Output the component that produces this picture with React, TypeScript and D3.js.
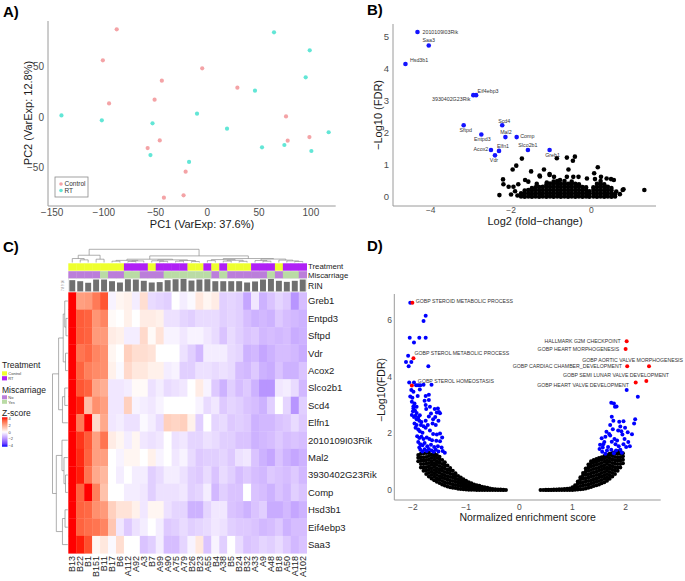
import React from "react";
import * as d3 from "d3";

const FONT = "'Liberation Sans', Arial, Helvetica, sans-serif";
const TICK = "#4d4d4d";
const AXIS = "#9a9a9a";

// ---------------- Panel A: PCA ----------------
const pcaControl: number[][] = [[-87.6,86.2],[-101,55.7],[-5,47.9],[-44,35.7],[29,28.8],[-51,17],[-95,13.4],[76,0.6],[98.6,-19.7],[77.6,-23.3],[-46,-23],[-57.7,-30.5],[-21,-53.8],[-23,-77],[-42,-79.3]];
const pcaRT: number[][] = [[64.4,83.3],[98.9,65.6],[95,39],[46,25.9],[-141,1.6],[-102,-3.3],[-10,3.3],[-53,-6.2],[19,-11.5],[117.2,-15],[52.8,-29.8],[74.4,-27.5],[100.5,-33.4],[-55,-37.4],[-17.7,-44.2]];
const pcaXTicks = [-150,-100,-50,0,50,100];
const pcaYTicks = [-50,0,50];

// ---------------- Panel B: volcano ----------------
const volGenes = ["2010109I03Rik","Saa3","Hsd3b1","Eif4ebp3","3930402G23Rik","Sftpd","Scd4","Entpd3","Mal2","Comp","Acox2","Slco2b1","Greb1","Elfn1","Vdr"];
const volLfc = [-4.33,-4.05,-4.63,-2.87,-2.94,-3.18,-2.22,-2.74,-2.14,-1.86,-2.5,-1.58,-1.04,-2.30,-2.40];
const volFdr = [5.15,4.73,4.15,3.18,3.18,2.24,2.24,1.95,1.87,1.87,1.47,1.47,1.47,1.44,1.30];
// label placement [dx, dy, anchor]
const volLabelPos: [number, number, string][] = [[5,2,"start"],[0,-3.2,"middle"],[4.5,-1.8,"start"],[1.5,-2.5,"start"],[-3,5.5,"end"],[2,6.5,"middle"],[2,-2.5,"middle"],[1,6.1,"middle"],[0.5,-2.8,"middle"],[3.6,1.2,"start"],[-2.7,0.8,"end"],[0,-2.5,"middle"],[3,6.8,"middle"],[4,-3.2,"middle"],[-1,6.5,"middle"]];
const volOther: number[][] = [[-1.73,1.20],[-1.87,0.98],[-1.96,0.86],[-1.50,0.80],[-2.20,0.55],[-2.19,0.40],[-2.29,0.06],[-0.86,1.21],[-0.61,1.23],[-0.41,1.26],[-0.46,1.13],[-1.04,0.72],[-1.18,0.86],[-1.29,0.67],[0.16,0.93],[-0.11,0.58],[0.38,0.58],[0.56,0.53],[0.78,0.22],[1.32,0.22],[0.71,0.09],[-0.32,0.63],[-0.61,0.63],[-0.78,0.53],[-1.65,0.53],[-1.94,0.32],[-2.06,0.32],[-1.82,0.40],[-1.57,0.48],[-1.36,0.41],[-1.11,0.45],[-0.93,0.63],[-0.45,0.63],[0.07,0.74],[0.24,0.63],[0.34,0.32],[0.62,0.17],[-0.57,0.86],[-1.28,0.64],[-1.04,0.69],[0.49,0.56],[0.09,0.56],[-2.0,0.08],[-1.9,0.18],[-1.84,0.05],[0.80,0.24]];
const volBlob: [number, number[]][] = [
  [-1.75,[0.02,0.12]],[-1.66,[0.01,0.11,0.2]],[-1.57,[0.02,0.12,0.22]],[-1.48,[0.01,0.1,0.2,0.28]],
  [-1.39,[0.02,0.12,0.22,0.3]],[-1.30,[0.01,0.11,0.21,0.31]],[-1.21,[0.02,0.12,0.22,0.32]],
  [-1.12,[0.01,0.11,0.21,0.31,0.38]],[-1.03,[0.02,0.12,0.22,0.32,0.42]],[-0.94,[0.01,0.11,0.21,0.31,0.41,0.48]],
  [-0.85,[0.02,0.12,0.22,0.32,0.42,0.5]],[-0.76,[0.01,0.11,0.21,0.31,0.41]],[-0.67,[0.02,0.12,0.22,0.32,0.42,0.5]],
  [-0.58,[0.01,0.11,0.21,0.31,0.41]],[-0.49,[0.02,0.12,0.22,0.32,0.42,0.48]],[-0.40,[0.01,0.11,0.21,0.31,0.41]],
  [-0.31,[0.02,0.12,0.22,0.32,0.4]],[-0.22,[0.01,0.11,0.21,0.31]],[-0.13,[0.02,0.12,0.22,0.3]],
  [-0.05,[0.01,0.1,0.18]],[0.05,[0.02,0.12,0.22,0.3]],[0.14,[0.01,0.11,0.21,0.31,0.41]],
  [0.23,[0.02,0.12,0.22,0.32,0.42,0.5]],[0.32,[0.01,0.11,0.21,0.31,0.4]],[0.41,[0.02,0.12,0.22,0.32]],
  [0.50,[0.01,0.11,0.21,0.28]],[0.59,[0.02,0.1]]
];
const volXTicks = [-4,-2,0];
const volYTicks = [0,1,2,3,4,5];

// ---------------- Panel C: heatmap ----------------
const sampleIds = ["B13","B22","B1","B151","B11","B17","B6","A112","A92","A3","B7","A99","A90","A75","A79","B26","B23","A55","B4","A38","B5","B24","B32","A33","A9","A48","B18","A50","A118","A102"];
const treatment = ["Control","Control","Control","Control","Control","Control","Control","RT","RT","RT","Control","RT","RT","RT","RT","Control","Control","RT","Control","RT","Control","Control","Control","RT","RT","RT","Control","RT","RT","RT"];
const miscarriage = ["No","No","No","No","Yes","No","No","Yes","Yes","No","No","No","Yes","Yes","Yes","Yes","Yes","Yes","No","Yes","No","No","No","No","No","Yes","No","Yes","Yes","No"];
const rin = [8.8,8.0,6.8,9.3,9.3,8.0,7.0,9.5,9.3,8.3,7.0,7.3,8.8,9.5,9.8,8.5,9.3,9.5,8.0,8.0,8.0,8.0,7.0,7.8,9.3,9.8,8.3,7.5,8.3,9.3];
const zGenes = ["Greb1","Entpd3","Sftpd","Vdr","Acox2","Slco2b1","Scd4","Elfn1","2010109I03Rik","Mal2","3930402G23Rik","Comp","Hsd3b1","Eif4ebp3","Saa3"];
const zGreb1 = [4,2.0,2.1,2.7,3.3,-0.2,0.2,0.3,-0.3,0.7,-0.6,-0.7,-0.8,0,-0.3,-0.1,0.5,0.2,0.4,-0.8,-0.7,-0.8,-1.5,-0.4,-1.3,-1.0,-0.7,-0.9,-1.8,-1.1];
const zEntpd3 = [4,3.2,3.1,2.2,2.5,0.1,0,0.3,0,0.4,0.4,0.3,-0.5,-0.5,-0.7,-0.8,-0.6,-0.6,-0.6,-0.8,-0.7,-0.8,-1.1,-1.3,-1.2,-1.3,-0.9,-1.1,-1.2,-1.3];
const zSftpd = [4,3.2,3.1,2.1,2.1,0.4,0.3,-0.3,-0.3,0.8,0.1,0.6,-0.2,-0.2,-0.4,-0.2,-0.2,-0.4,-0.6,-1.0,-0.6,-0.8,-1.0,-0.9,-1.2,-1.1,-1.2,-1.1,-1.4,-1.3];
const zVdr = [4,2.8,3.0,2.5,2.3,0.2,0,1.0,0.7,0.7,0.6,0,0,0,-0.5,-0.8,-1.2,-0.3,-0.3,-0.3,-0.6,-0.7,-1.3,-1.2,-1.5,-1.3,-1.1,-1.1,-1.2,-1.4];
const zAcox2 = [4,3.1,2.6,2.4,2.3,0.3,-0.1,0.8,0.5,0.5,0.3,0.3,-0.3,-0.2,-0.8,-0.8,-0.5,-0.5,-0.6,-0.5,-0.6,-1.1,-1.2,-0.9,-1.3,-1.4,-1.0,-1.3,-1.3,-1.0];
const zSlco2b1 = [4,3.3,3.1,1.9,1.7,-0.4,-0.4,-0.3,0.1,0.1,-0.5,-0.3,-0.6,-0.5,-0.4,0,0.4,-0.2,-0.9,-1.3,-0.8,-1.1,-0.9,-1.3,-1.8,-1.8,-0.4,-0.3,-0.6,-1.2];
const zScd4 = [4,3.9,1.4,2.3,2.0,-0.4,-0.4,1.0,-0.2,-0.3,-0.4,-0.2,0,0,0,0,-0.2,-0.6,-0.4,-0.9,-0.7,-0.8,-1.0,-1.1,-1.3,-0.8,0,-0.7,-1.8,-0.8];
const zElfn1 = [4,2.7,4,0.8,1.8,-0.4,-0.3,-0.5,-0.5,-0.1,-0.3,-0.6,1.0,0.9,1.0,0.3,-0.8,0,-0.7,-0.6,-0.9,-0.8,-0.9,-1.3,-1.2,-1.2,-1.0,-0.9,-0.6,-0.9];
const z2010109I03Rik = [4,3.7,3.2,2.0,2.8,0.4,0.2,-0.3,0.2,-0.4,-0.5,-0.4,0,-0.5,-0.4,-0.7,-0.7,-0.5,-0.6,-0.8,-0.8,-1.0,-1.0,-1.3,-1.2,-1.1,-0.9,-1.1,-1.0,-1.1];
const zMal2 = [4,3.8,3.1,2.0,2.0,0,-0.2,0.2,0.2,0,0.3,-0.2,0,-0.4,-0.2,-0.6,-0.9,-0.8,-0.8,-0.7,-0.9,-0.5,-0.4,-1.0,-1.3,-1.5,-1.0,-1.3,-1.5,-1.3];
const z3930402G23Rik = [4,3.9,2.8,1.8,1.5,0,-0.3,0,-0.3,-0.3,-0.8,-0.6,-0.3,-0.3,-0.5,-0.8,-0.9,-0.6,-1.0,-0.6,-0.8,-1.1,-0.9,-1.1,-1.2,-0.9,-1.0,-1.1,-0.9,-1.2];
const zComp = [4,3.1,4,2.6,1.3,0,0,-0.3,-0.3,-0.4,-0.8,-0.5,-0.5,-0.5,-0.4,-0.8,-0.7,-0.3,-1.2,-0.8,-1.0,-1.0,0,-1.0,-1.1,-1.3,-1.0,-1.2,-0.8,-1.0];
const zHsd3b1 = [4,3.1,3.0,2.3,2.1,1.0,0.6,0.6,0.3,-0.4,0.2,0.2,-0.5,-0.7,-0.7,-1.3,-1.3,-0.7,-0.4,-0.4,-1.0,-1.1,-1.3,-1.0,-0.8,-1.4,-1.4,-1.2,-1.5,-1.3];
const zEif4ebp3 = [4,3.1,2.9,2.8,2.5,1.2,-0.4,-0.9,-0.5,-0.3,0,-0.3,-0.9,-0.8,-0.6,-0.8,-0.7,-0.6,-0.4,-0.5,-0.8,-0.9,-0.9,-1.0,-1.2,-1.1,-0.9,-1.3,-1.1,-1.1];
const zSaa3 = [4,3.9,3.4,0.2,0.5,-0.1,0.7,0,0,-1.0,-0.8,-0.3,-1.1,-1.1,-0.7,-0.2,0.5,-1.0,-0.2,-0.8,0,-0.6,-1.0,-0.9,-0.7,-0.8,-0.6,-0.9,-1.2,-1.0];
const zMatrix = [zGreb1,zEntpd3,zSftpd,zVdr,zAcox2,zSlco2b1,zScd4,zElfn1,z2010109I03Rik,zMal2,z3930402G23Rik,zComp,zHsd3b1,zEif4ebp3,zSaa3];
type Tree = number | [number, Tree, Tree];
const colTree: Tree = [10, [5.5, [3, 0, [2, 1, 2]], [2.5, 3, 4]],
  [5, [2.5, [1.6, [1.0, 5, 6], [1.2, [0.8, 7, 8], 9]], [2, [1.3, 10, [0.9, 11, 12]], [1.5, [1.0, 13, 14], [0.7, 15, 16]]]],
      [3, [2.2, [1.4, 17, 18], [1.7, [1.1, 19, 20], [0.9, 21, 22]]], [2.6, [1.5, 23, [1.0, 24, 25]], [1.8, 26, [1.2, 27, [0.8, 28, 29]]]]]]];
const rowTree: Tree = [10, [6, [3, [2, 0, [1.2, 1, 2]], [1.5, 3, 4]], [3.5, [2, 5, 6], 7]], [7.5, [3.8, 8, [2.5, 9, [1.5, 10, 11]]], [3.5, [1.8, 12, 13], 14]]];
const zLegendTicks = [4,2,0,-2,-4];

// ---------------- Panel D: GSEA volcano ----------------
const gseaLeftBlack: [number, number[]][] = [
  [-1.90,[1.02,1.14,1.24]],[-1.85,[0.80,0.92,1.04,1.16,1.28]],[-1.80,[0.68,0.8,0.92,1.04,1.16,1.3]],
  [-1.75,[0.57,0.69,0.81,0.93,1.05,1.17,1.31]],[-1.70,[0.48,0.6,0.72,0.84,0.96,1.08,1.2,1.32]],
  [-1.65,[0.41,0.53,0.65,0.77,0.89,1.01,1.13,1.25]],[-1.60,[0.35,0.47,0.59,0.71,0.83,0.95,1.07,1.19,1.29]],
  [-1.55,[0.29,0.41,0.53,0.65,0.77,0.89,1.01,1.13,1.24]],[-1.50,[0.25,0.37,0.49,0.61,0.73,0.85,0.97,1.09,1.18]],
  [-1.45,[0.2,0.32,0.44,0.56,0.68,0.8,0.92,1.06]],[-1.40,[0.16,0.28,0.4,0.52,0.64,0.76,0.88,0.98]],
  [-1.35,[0.13,0.25,0.37,0.49,0.61,0.73,0.87]],[-1.30,[0.1,0.22,0.34,0.46,0.58,0.7,0.78]],
  [-1.25,[0.08,0.2,0.32,0.44,0.56,0.68]],[-1.20,[0.07,0.18,0.29,0.4,0.5,0.59]],[-1.15,[0.05,0.16,0.27,0.38,0.5]],
  [-1.10,[0.04,0.14,0.24,0.34,0.44]],[-1.05,[0.03,0.13,0.23,0.32,0.38]],[-1.00,[0.02,0.11,0.2,0.28,0.33]],
  [-0.95,[0.01,0.1,0.18,0.28]],[-0.90,[0.01,0.09,0.17,0.24]],[-0.85,[0.01,0.08,0.15,0.2]],
  [-0.80,[0,0.07,0.13,0.17]],[-0.75,[0,0.06,0.11,0.15]],[-0.70,[0,0.05,0.12]],[-0.65,[0,0.05,0.1]],
  [-0.60,[0,0.04,0.08]],[-0.55,[0,0.03,0.06]],[-0.50,[0,0.04]],[-0.45,[0,0.03]],[-0.40,[0,0.02]],
  [-0.35,[0,0.02]],[-0.30,[0,0.01]],[-0.25,[0]]
];
const gseaRightBlack: [number, number[]][] = [
  [0.40,[0]],[0.45,[0]],[0.50,[0,0.01]],[0.55,[0,0.01]],[0.60,[0,0.01]],[0.65,[0,0.02]],[0.70,[0,0.02]],
  [0.75,[0,0.03]],[0.80,[0,0.03]],[0.85,[0,0.04]],[0.90,[0,0.05]],[0.95,[0,0.06]],
  [1.00,[0,0.06,0.1]],[1.05,[0.01,0.08,0.17]],[1.10,[0.02,0.11,0.22,0.3]],[1.15,[0.03,0.14,0.26,0.38,0.45]],
  [1.20,[0.04,0.16,0.28,0.4,0.52,0.6]],[1.25,[0.06,0.18,0.3,0.42,0.54,0.66,0.76]],
  [1.30,[0.08,0.2,0.32,0.44,0.56,0.68,0.8,0.9]],[1.35,[0.11,0.23,0.35,0.47,0.59,0.71,0.83,0.95,1.02]],
  [1.40,[0.14,0.26,0.38,0.5,0.62,0.74,0.86,0.98,1.06]],[1.45,[0.17,0.29,0.41,0.53,0.65,0.77,0.89,1.01,1.1]],
  [1.50,[0.2,0.32,0.44,0.56,0.68,0.8,0.92,1.04,1.13]],[1.55,[0.24,0.36,0.48,0.6,0.72,0.84,0.96,1.08,1.16]],
  [1.60,[0.28,0.4,0.52,0.64,0.76,0.88,1.0,1.12,1.2]],[1.65,[0.33,0.45,0.57,0.69,0.81,0.93,1.05,1.17,1.24]],
  [1.70,[0.4,0.52,0.64,0.76,0.88,1.0,1.12,1.24,1.28]],[1.75,[0.48,0.6,0.72,0.84,0.96,1.08,1.2,1.31]],
  [1.80,[0.57,0.69,0.81,0.93,1.05,1.17,1.29,1.34]],[1.85,[0.68,0.8,0.92,1.04,1.16,1.28,1.37]],
  [1.90,[0.8,0.92,1.04,1.16,1.28,1.4]],[1.95,[0.95,1.07,1.19,1.3]]
];
const gseaBlue: number[][] = [
  [-2.05,6.61],[-1.76,6.15],[-1.80,5.97],[-2.06,5.38],[-1.88,5.38],[-1.76,5.38],[-1.98,5.21],
  [-2.09,4.74],[-2.13,4.52],[-2.03,4.52],[-2.08,4.37],[-1.71,4.37],[-2.07,3.80],[-1.98,3.80],
  [-1.94,3.70],[-1.90,3.70],[-1.86,3.70],[-1.80,3.72],[-1.65,3.72],[-2.03,3.53],[-1.99,3.47],[-1.87,3.55],
  [-2.05,3.30],[-2.01,3.26],[-1.91,3.32],[-1.76,3.32],[-1.70,3.36],[-2.02,3.12],[-1.97,3.06],[-1.78,3.15],[-1.70,3.18],
  [-1.99,2.96],[-1.93,2.94],[-1.99,2.89],[-1.76,3.00],[-1.68,2.94],[-1.59,2.86],[-1.53,2.88],[-1.51,2.76],[-1.49,2.71],[-1.55,2.74],
  [-1.96,2.80],[-1.93,2.72],[-1.87,2.64],[-1.75,2.86],[-1.62,2.50],
  [-1.93,2.50],[-1.88,2.45],[-1.84,2.40],[-1.97,2.35],[-1.93,2.30],[-1.76,2.45],[-1.63,2.35],[-1.57,2.30],
  [-1.95,2.20],[-1.90,2.14],[-1.87,2.08],[-1.82,2.02],[-1.76,2.20],[-1.68,2.10],[-1.62,1.98],[-1.55,1.96],[-1.49,2.00],
  [-1.92,1.90],[-1.88,1.84],[-1.84,1.88],[-1.80,1.80],[-1.74,1.86],[-1.69,1.80],[-1.64,1.76],[-1.56,1.74],[-1.49,1.72],[-1.45,1.86],
  [-1.90,1.70],[-1.86,1.62],[-1.82,1.58],[-1.78,1.66],[-1.73,1.55],[-1.66,1.60],[-1.60,1.52],[-1.53,1.55],[-1.46,1.50],[-1.88,1.50],
  [-1.86,1.42],[-1.82,1.36],[-1.78,1.44],[-1.74,1.38],[-1.70,1.45],[-1.65,1.40],[-1.61,1.35],[-1.57,1.42],[-1.52,1.36],[-1.44,1.38],[-1.40,1.32],
  [-2.02,2.65],[-1.98,2.58],[-2.0,2.78],[-1.95,2.62],[-1.90,2.55],[-1.85,2.30],[-1.80,2.25],[-1.72,2.30],[-1.70,2.60],[-1.66,2.70],[-1.58,2.58],[-1.52,2.45],
  [2.02,3.53],[2.23,3.29],[1.73,3.08],[1.78,3.06],[1.80,2.94],[1.83,2.95],
  [1.74,2.59],[1.77,2.45],[1.71,2.30],[1.88,2.41],[1.96,2.43],[2.18,2.50],[2.16,2.35],[1.90,2.24],
  [1.64,2.06],[1.62,1.88],[1.55,1.83],[1.71,1.93],[1.79,1.80],[1.92,2.08],[1.94,1.96],[2.04,2.04],[2.12,1.97],
  [1.74,1.71],[1.58,1.62],[1.81,1.62],[1.87,1.55],[1.96,1.62],[2.01,1.52],
  [1.51,1.45],[1.56,1.35],[1.65,1.40],[1.73,1.42],[1.90,1.42],[1.93,1.32],
  [1.60,1.70],[1.67,1.52],[1.84,1.75],[1.98,1.80],[2.05,1.70],[1.52,1.60],[1.69,1.98],[1.86,2.10],[1.76,2.15],[1.82,1.40],[1.62,1.28],[1.78,1.30],[2.08,1.55],[1.99,2.20],[1.57,1.50]
];
const gseaRedNames = ["GOBP STEROID METABOLIC PROCESS","GOBP STEROL METABOLIC PROCESS","GOBP STEROL HOMEOSTASIS","HALLMARK G2M CHECKPOINT","GOBP HEART MORPHOGENESIS","GOBP AORTIC VALVE MORPHOGENESIS","GOBP CARDIAC CHAMBER_DEVELOPMENT","GOBP SEMI LUNAR VALVE DEVELOPMENT","GOBP HEART VALVE DEVELOPMENT"];
const gseaRedNes = [-2.01,-1.99,-2.02,2.02,2.0,2.44,2.03,2.39,2.19];
const gseaRedFdr = [6.61,4.65,3.69,5.25,4.98,4.37,4.37,3.85,3.80];
const gseaLabelPos: [number, number, string][] = [[3.3,-0.2,"start"],[1,-3.2,"start"],[6,-2.8,"start"],[-6,1.8,"end"],[-6.4,1.8,"end"],[34,-4.5,"end"],[-5.3,1.8,"end"],[22.7,-3.5,"end"],[-6.7,4.2,"end"]];
const gseaXTicks = [-2,-1,0,1,2];
const gseaYTicks = [0,2,4,6];

function dendroSegs(t: Tree, leaf: (i: number) => number) {
  const segs: number[][] = [];
  function rec(n: Tree): { p: number; h: number } {
    if (typeof n === "number") return { p: leaf(n), h: 0 };
    const [h, a, b] = n;
    const A = rec(a), B = rec(b);
    segs.push([A.p, A.h, A.p, h]);
    segs.push([B.p, B.h, B.p, h]);
    segs.push([A.p, h, B.p, h]);
    return { p: (A.p + B.p) / 2, h };
  }
  rec(t);
  return segs;
}

function flatCols(cols: [number, number[]][]) {
  const out: number[][] = [];
  cols.forEach(([x, ys]) => ys.forEach((y) => out.push([x, y])));
  return out;
}

const fmt = (t: number) => (t < 0 ? "\u2212" + Math.abs(t) : String(t));

export default function App() {
  // ---- A ----
  const xA = d3.scaleLinear().domain([-154, 124]).range([48, 335.7]);
  const yA = d3.scaleLinear().domain([-87.5, 94]).range([206, 21.4]);
  // ---- B ----
  const xB = d3.scaleLinear().domain([-4.94, 1.61]).range([393, 656]);
  const yB = d3.scaleLinear().domain([-0.28, 5.4]).range([206, 24]);
  const blobPts = flatCols(volBlob);
  // ---- C ----
  const hmLeft = 68.3, hmRight = 306.7, hmTop = 292.3, hmBottom = 553.3;
  const xC = d3.scaleBand<number>().domain(d3.range(sampleIds.length)).range([hmLeft, hmRight]);
  const yC = d3.scaleBand<number>().domain(d3.range(zGenes.length)).range([hmTop, hmBottom]);
  const zColor = d3.scaleLinear<string>().domain([-4, 0, 4]).range(["#0000ff", "#ffffff", "#ff0000"]).interpolate(d3.interpolateLab).clamp(true);
  const trtColor: Record<string, string> = { Control: "#EEFF2E", RT: "#B021F5" };
  const misColor: Record<string, string> = { No: "#BB7EDA", Yes: "#BADBA5" };
  const rinH = d3.scaleLinear().domain([0, 10]).range([0, 13]);
  const colDendY = d3.scaleLinear().domain([0, 10]).range([262.5, 249.3]);
  const rowDendX = d3.scaleLinear().domain([0, 10]).range([67.8, 52.5]);
  const colSegs = dendroSegs(colTree, (i) => xC(i)! + xC.bandwidth() / 2);
  const rowSegs = dendroSegs(rowTree, (i) => yC(i)! + yC.bandwidth() / 2);
  const zLegY = d3.scaleLinear().domain([4, -4]).range([419, 445.5]);
  // ---- D ----
  const xD = d3.scaleLinear().domain([-2.35, 2.66]).range([394.3, 660.7]);
  const yD = d3.scaleLinear().domain([-0.35, 6.92]).range([500, 294]);
  const blackD = flatCols(gseaLeftBlack).concat(flatCols(gseaRightBlack));

  return (
    <svg width={685} height={581} style={{ position: "absolute", left: 0, top: 0, background: "#fff" }} fontFamily={FONT}>
      <rect width={685} height={581} fill="#fff" />
      {/* ================= A ================= */}
      <text x={3} y={16.5} fontSize={15} fontWeight="bold">A)</text>
      <line x1={48} x2={335.7} y1={206} y2={206} stroke={AXIS} strokeWidth={1} />
      <line x1={48} x2={48} y1={21} y2={206} stroke={AXIS} strokeWidth={1} />
      {pcaXTicks.map((t) => (
        <text key={"ax" + t} x={xA(t)} y={216} fontSize={10} fill={TICK} textAnchor="middle">{fmt(t)}</text>
      ))}
      {pcaYTicks.map((t) => (
        <text key={"ay" + t} x={44} y={yA(t) + 3.5} fontSize={10} fill={TICK} textAnchor="end">{fmt(t)}</text>
      ))}
      <text x={202} y={227.5} fontSize={11} fill="#1a1a1a" textAnchor="middle">PC1 (VarExp: 37.6%)</text>
      <text transform="translate(32,113) rotate(-90)" fontSize={11} fill="#1a1a1a" textAnchor="middle">PC2 (VarExp: 12.8%)</text>
      {pcaControl.map((d, i) => (
        <circle key={"pc" + i} cx={xA(d[0])} cy={yA(d[1])} r={2.1} fill="#F4A3A6" />
      ))}
      {pcaRT.map((d, i) => (
        <circle key={"pr" + i} cx={xA(d[0])} cy={yA(d[1])} r={2.1} fill="#62E6D6" />
      ))}
      <rect x={55} y={177} width={33} height={20} fill="#fff" stroke="#8a8a8a" strokeWidth={0.8} />
      <circle cx={61} cy={184} r={1.8} fill="#F4A3A6" />
      <text x={64.5} y={186.3} fontSize={6.5} fill="#333">Control</text>
      <circle cx={61} cy={190.5} r={1.8} fill="#62E6D6" />
      <text x={64.5} y={192.8} fontSize={6.5} fill="#333">RT</text>

      {/* ================= B ================= */}
      <text x={367} y={15} fontSize={15} fontWeight="bold">B)</text>
      <line x1={393} x2={656} y1={206} y2={206} stroke={AXIS} strokeWidth={1} />
      <line x1={393} x2={393} y1={24} y2={206} stroke={AXIS} strokeWidth={1} />
      {volXTicks.map((t) => (
        <text key={"bx" + t} x={xB(t)} y={212.6} fontSize={8.5} fill={TICK} textAnchor="middle">{fmt(t)}</text>
      ))}
      {volYTicks.map((t) => (
        <text key={"by" + t} x={389} y={yB(t) + 3.3} fontSize={9.5} fill={TICK} textAnchor="end">{t}</text>
      ))}
      <text x={535} y={224.5} fontSize={11} fill="#1a1a1a" textAnchor="middle">Log2 (fold{"\u2212"}change)</text>
      <text transform="translate(382,115) rotate(-90)" fontSize={11} fill="#1a1a1a" textAnchor="middle">{"\u2212"}Log10 (FDR)</text>
      {volOther.map((d, i) => (
        <circle key={"bo" + i} cx={xB(d[0])} cy={yB(d[1])} r={2.3} fill="#000" />
      ))}
      {blobPts.map((d, i) => (
        <circle key={"bb" + i} cx={xB(d[0])} cy={yB(d[1])} r={2.3} fill="#000" />
      ))}
      {volGenes.map((g, i) => (
        <circle key={"bg" + i} cx={xB(volLfc[i])} cy={yB(volFdr[i])} r={2.3} fill="#1414ff" />
      ))}
      {volGenes.map((g, i) => (
        <text key={"bl" + i} x={xB(volLfc[i]) + volLabelPos[i][0]} y={yB(volFdr[i]) + volLabelPos[i][1]} fontSize={5.3} fill="#333" textAnchor={volLabelPos[i][2] as any}>{g}</text>
      ))}

      {/* ================= C ================= */}
      <text x={3} y={251.5} fontSize={15} fontWeight="bold">C)</text>
      {colSegs.map((s, i) => (
        <line key={"cd" + i} x1={s[0]} y1={colDendY(s[1])} x2={s[2]} y2={colDendY(s[3])} stroke="#8c8c8c" strokeWidth={0.7} />
      ))}
      {rowSegs.map((s, i) => (
        <line key={"rd" + i} x1={rowDendX(s[1])} y1={s[0]} x2={rowDendX(s[3])} y2={s[2]} stroke="#8c8c8c" strokeWidth={0.7} />
      ))}
      {sampleIds.map((s, j) => (
        <g key={"ann" + j}>
          <rect x={xC(j)!} y={263.3} width={xC.bandwidth() + 0.3} height={7.4} fill={trtColor[treatment[j]]} />
          <rect x={xC(j)!} y={271.2} width={xC.bandwidth() + 0.3} height={7.2} fill={misColor[miscarriage[j]]} />
          <rect x={xC(j)! + 1} y={291.6 - rinH(rin[j])} width={xC.bandwidth() - 2} height={rinH(rin[j])} fill="#707070" />
        </g>
      ))}
      <rect x={hmLeft} y={278.6} width={hmRight - hmLeft} height={13.1} fill="none" stroke="#d0d0d0" strokeWidth={0.4} />
      <text transform="translate(64,291) rotate(-90)" fontSize={3} fill="#777">7 8 9 10</text>
      {zMatrix.map((row, i) =>
        row.map((v, j) => (
          <rect key={"hm" + i + "_" + j} x={xC(j)!} y={yC(i)!} width={xC.bandwidth() + 0.3} height={yC.bandwidth() + 0.3} fill={zColor(v)} />
        ))
      )}
      {zGenes.map((g, i) => (
        <text key={"rg" + i} x={308} y={yC(i)! + yC.bandwidth() / 2 + 3.4} fontSize={9.5} fill="#222">{g}</text>
      ))}
      {sampleIds.map((s, j) => (
        <text key={"cs" + j} transform={`translate(${xC(j)! + xC.bandwidth() / 2 + 3.2},556) rotate(-90)`} fontSize={9} fill="#222" textAnchor="end">{s}</text>
      ))}
      <text x={308} y={269.4} fontSize={7.8} fill="#222">Treatment</text>
      <text x={308} y={278.2} fontSize={7.8} fill="#222">Miscarriage</text>
      <text x={308} y={288.8} fontSize={8.5} fill="#222">RIN</text>
      {/* legends */}
      <text x={2} y={368} fontSize={8.5} fill="#222">Treatment</text>
      <rect x={2} y={371.3} width={5} height={4.2} fill={trtColor.Control} />
      <text x={8.3} y={375.2} fontSize={4} fill="#444">Control</text>
      <rect x={2} y={376.2} width={5} height={4.2} fill={trtColor.RT} />
      <text x={8.3} y={380.1} fontSize={4} fill="#444">RT</text>
      <text x={2} y={393} fontSize={8.5} fill="#222">Miscarriage</text>
      <rect x={2} y={395.3} width={5} height={4} fill={misColor.No} />
      <text x={8.3} y={399} fontSize={4} fill="#444">No</text>
      <rect x={2} y={399.8} width={5} height={4} fill={misColor.Yes} />
      <text x={8.3} y={403.5} fontSize={4} fill="#444">Yes</text>
      <text x={2} y={415.5} fontSize={8.5} fill="#222">Z-score</text>
      <defs>
        <linearGradient id="zgrad" x1="0" y1="0" x2="0" y2="1">
          {d3.range(0, 1.0001, 0.1).map((t) => (
            <stop key={"zs" + t} offset={t} stopColor={zColor(4 - 8 * t)} />
          ))}
        </linearGradient>
      </defs>
      <rect x={2} y={417.3} width={5.5} height={29.4} fill="url(#zgrad)" />
      {zLegendTicks.map((t) => (
        <text key={"zl" + t} x={8.5} y={zLegY(t) + 1.4} fontSize={4} fill="#444">{fmt(t)}</text>
      ))}

      {/* ================= D ================= */}
      <text x={367} y={250.5} fontSize={15} fontWeight="bold">D)</text>
      <line x1={394.3} x2={660.7} y1={500} y2={500} stroke={AXIS} strokeWidth={1} />
      <line x1={394.3} x2={394.3} y1={294} y2={500} stroke={AXIS} strokeWidth={1} />
      {gseaXTicks.map((t) => (
        <text key={"dx" + t} x={xD(t)} y={509.5} fontSize={8.5} fill={TICK} textAnchor="middle">{fmt(t)}</text>
      ))}
      {gseaYTicks.map((t) => (
        <text key={"dy" + t} x={392} y={yD(t) + 3} fontSize={8.5} fill={TICK} textAnchor="end">{t}</text>
      ))}
      <text x={527.7} y={520.5} fontSize={10.5} fill="#1a1a1a" textAnchor="middle">Normalized enrichment score</text>
      <text transform="translate(385,390) rotate(-90)" fontSize={10.5} fill="#1a1a1a" textAnchor="middle">{"\u2212"}Log10(FDR)</text>
      {blackD.map((d, i) => (
        <circle key={"dk" + i} cx={xD(d[0])} cy={yD(d[1])} r={2} fill="#000" />
      ))}
      {gseaBlue.map((d, i) => (
        <circle key={"db" + i} cx={xD(d[0])} cy={yD(d[1])} r={2} fill="#0000ff" />
      ))}
      {gseaRedNames.map((n, i) => (
        <circle key={"dr" + i} cx={xD(gseaRedNes[i])} cy={yD(gseaRedFdr[i])} r={2} fill="#ff0000" />
      ))}
      {gseaRedNames.map((n, i) => (
        <text key={"dl" + i} x={xD(gseaRedNes[i]) + gseaLabelPos[i][0]} y={yD(gseaRedFdr[i]) + gseaLabelPos[i][1]} fontSize={5.2} fill="#333" textAnchor={gseaLabelPos[i][2] as any}>{n}</text>
      ))}
    </svg>
  );
}
